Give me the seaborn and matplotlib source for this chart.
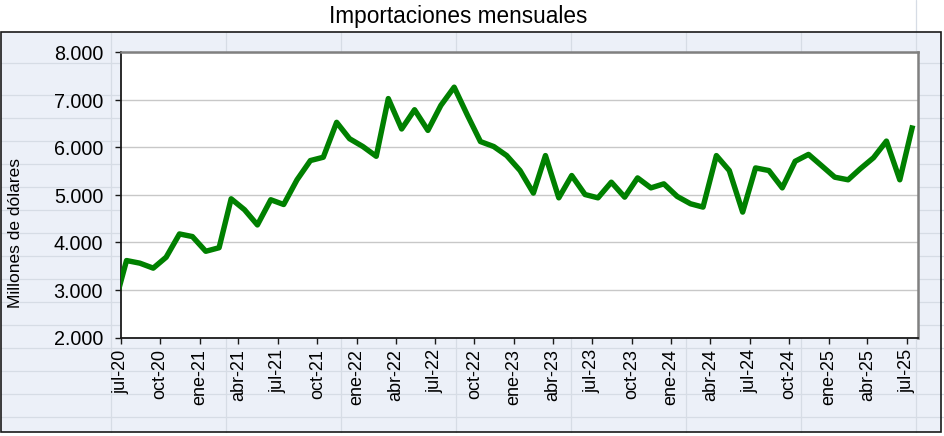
import numpy as np
import pandas as pd
import matplotlib
matplotlib.use("Agg")
import matplotlib.pyplot as plt
import seaborn as sns
from matplotlib.patches import Rectangle

# ---- data ----
meses = pd.date_range("2020-06-01", "2025-07-01", freq="MS") + pd.Timedelta(days=14)
importaciones = [
    2620,                                            # jun-20
    3620, 3565, 3460, 3690, 4180, 4125,              # jul-dic 2020
    3815, 3890, 4920, 4690, 4370, 4900,              # 2021
    4800, 5320, 5725, 5795, 6530, 6185,
    6020, 5815, 7030, 6390, 6795, 6360,              # 2022
    6885, 7270, 6675, 6125, 6020, 5830,
    5515, 5040, 5830, 4940, 5410, 5010,              # 2023
    4940, 5270, 4955, 5360, 5150, 5235,
    4970, 4815, 4745, 5830, 5515, 4640,              # 2024
    5570, 5515, 5150, 5710, 5855, 5620,
    5375, 5320, 5550, 5785, 6135, 5320,              # 2025
    6465,
]
tick_fechas = pd.date_range("2020-07-01", "2025-07-01", freq="3MS")
tick_etiquetas = ["jul-20", "oct-20", "ene-21", "abr-21", "jul-21", "oct-21",
                  "ene-22", "abr-22", "jul-22", "oct-22", "ene-23", "abr-23",
                  "jul-23", "oct-23", "ene-24", "abr-24", "jul-24", "oct-24",
                  "ene-25", "abr-25", "jul-25"]
y_ticks = [2000, 3000, 4000, 5000, 6000, 7000, 8000]
y_etiquetas = ["2.000", "3.000", "4.000", "5.000", "6.000", "7.000", "8.000"]
titulo = "Importaciones mensuales"
eje_y = "Millones de dólares"

df = pd.DataFrame({"mes": meses, "valor": importaciones})

sns.set_theme(style="white")
plt.rcParams["font.family"] = ["Liberation Sans", "DejaVu Sans"]

W, H = 944, 436
fig = plt.figure(figsize=(W / 100, H / 100), dpi=100, facecolor="white")

# ---- spreadsheet-like background ----
bg = fig.add_axes([0, 0, 1, 1])
bg.set_xlim(0, W)
bg.set_ylim(H, 0)
bg.axis("off")
box_l, box_t, box_r, box_b = 1, 31.7, 940.7, 432.3
bg.add_patch(Rectangle((box_l, box_t), box_r - box_l, box_b - box_t,
                       facecolor="#ECF0F8", edgecolor="none", zorder=0))
cell_col = "#D6DCE5"
rows = [63.3, 95.5] + [118.3 + 23 * k for k in range(14)]
for yy in rows:
    bg.plot([box_l, W], [yy, yy], color=cell_col, lw=0.9, zorder=1)
for xx in [110.7 + 115 * k for k in range(8)]:
    bg.plot([xx, xx], [box_t, box_b], color=cell_col, lw=0.9, zorder=1)
bg.plot([915.9, 915.9], [0, box_t], color=cell_col, lw=0.9, zorder=1)
bg.add_patch(Rectangle((box_l, box_t), box_r - box_l, box_b - box_t,
                       facecolor="none", edgecolor="#1a1a1a", lw=1.2, zorder=3))

# ---- main plot area ----
pl, pt, pr, pb = 120.5, 52.5, 918.3, 337.5
ax = fig.add_axes([pl / W, 1 - pb / H, (pr - pl) / W, (pb - pt) / H])
ax.set_facecolor("white")

sns.lineplot(data=df, x="mes", y="valor", ax=ax, color="#008000",
             linewidth=3.9, solid_joinstyle="round", solid_capstyle="butt",
             zorder=3)

ax.set_xlim(pd.Timestamp("2020-07-01"), pd.Timestamp("2025-07-28"))
ax.set_ylim(2000, 8000)
ax.set_yticks(y_ticks, labels=y_etiquetas)
ax.set_xticks(tick_fechas, labels=tick_etiquetas, rotation=90)
ax.set_xlabel("")
ax.set_ylabel("")

ax.grid(axis="y", color="#C8C8C8", lw=1.0)
ax.grid(axis="x", visible=False)
ax.set_axisbelow(True)

for s in ["left", "bottom"]:
    ax.spines[s].set_color("#1a1a1a")
    ax.spines[s].set_linewidth(1.3)
for s in ["top", "right"]:
    ax.spines[s].set_color("#808080")
    ax.spines[s].set_linewidth(1.8)

ax.tick_params(axis="y", which="major", left=True, length=4.5, width=1,
               color="#1a1a1a", pad=8, labelsize=14.2, labelcolor="black")
ax.tick_params(axis="x", which="major", bottom=True, length=4.5, width=1,
               color="#1a1a1a", pad=4, labelsize=13, labelcolor="black")

fig.text(458.3 / W, 1 - 23 / H, titulo, ha="center", va="baseline",
         fontsize=16.3, color="black")
fig.text(16 / W, 1 - 233 / H, eje_y, ha="center", va="center",
         rotation=90, fontsize=12.5, color="black")

fig.savefig("out.png", dpi=100, facecolor="white")
